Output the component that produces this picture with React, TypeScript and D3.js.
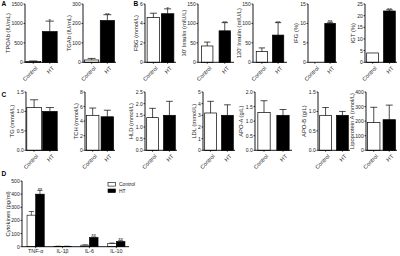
import React from 'react';
import * as d3 from 'd3';

const groups = ['Control', 'HT'];

// Panel A/B (row 1)
const row1Titles = ["TPOAb (IU/mL)", "TGAb (IU/mL)", "FBG (mmol/L)", "30' Insulin (mIU/L)", "120' Insulin (mIU/L)", "IFG (%)", "IGT (%)"];
const row1Max = [1500, 300, 6, 150, 150, 15, 25];
const row1Step = [500, 100, 2, 50, 50, 5, 5];
const row1Dec = [0, 0, 0, 0, 0, 0, 0];
const row1Control = [20, 12, 4.6, 42, 28, 0, 4];
const row1ControlErr = [35, 20, 5.05, 52, 37, 0, 4];
const row1HT = [790, 215, 5.0, 81, 70, 10, 22];
const row1HTErr = [1060, 245, 5.5, 102, 102, 10.3, 22.5];
const row1Stars = ['*', '**', '*', '**', '**', '**', '**'];

// Panel C (row 2)
const row2Titles = ["TG (mmol/L)", "TCH (mmol/L)", "HLD (mmol/L)", "LDL (mmol/L)", "APO-A (g/L)", "APO-B (g/L)", "Lipoprotein A (nmol/L)"];
const row2Max = [1.5, 8, 2.5, 5, 2.0, 1.5, 400];
const row2Step = [0.5, 2, 0.5, 1, 0.5, 0.5, 100];
const row2Dec = [1, 0, 1, 0, 1, 1, 0];
const row2Control = [1.1, 4.8, 1.4, 3.2, 1.3, 0.9, 190];
const row2ControlErr = [1.3, 5.8, 1.8, 4.2, 1.7, 1.1, 295];
const row2HT = [1.0, 4.6, 1.5, 3.0, 1.2, 0.9, 210];
const row2HTErr = [1.1, 5.5, 2.1, 3.9, 1.4, 1.0, 310];
const row2Stars = ['', '', '', '', '', '', ''];

// Panel D
const cytokines = ['TNF-α', 'IL-1β', 'IL-6', 'IL-10'];
const cytControl = [240, 3, 12, 25];
const cytControlErr = [268, 4, 14, 28];
const cytHT = [400, 3, 70, 40];
const cytHTErr = [428, 4, 75, 46];
const cytStars = ['**', '', '**', '**'];
const cytTicks = [0, 100, 200, 300, 400, 500];

// layout
const row1X0 = [25, 83, 145, 198, 253, 308, 365];
const row1X1 = [58, 116, 176, 234, 287, 337, 397];
const row1PIn = [0.1, 0.1, 0.12, 0.35, 0.3, 0.3, 0.3];
const row1POut = [0.05, 0.1, 0.15, 0.2, 0.2, 0.1, 0.1];
const row2X0 = [26, 85, 145, 203, 255, 318, 366];
const row2X1 = [58, 115, 177, 235, 292, 350, 397];
const row2PIn = [0.08, 0.15, 0.3, 0.3, 0.35, 0.3, 0.2];
const row2POut = [0.05, 0.1, 0.1, 0.1, 0.15, 0.1, 0.1];

const FONT = '"Liberation Sans", Arial, sans-serif';
const INK = '#1a1a1a';
const TICK_FS = 5;

type PanelProps = {
  x0: number; x1: number; yTop: number; yBot: number; max: number; step: number; dec: number;
  vals: number[]; errs: number[]; star: string; title: string; pIn: number; pOut: number;
};

function BarPanel(p: PanelProps) {
  const y = d3.scaleLinear().domain([0, p.max]).range([p.yBot, p.yTop]);
  const xb = d3.scaleBand<string>().domain(groups).range([p.x0, p.x1]).paddingInner(p.pIn).paddingOuter(p.pOut);
  const ticks = d3.range(0, p.max + p.step / 2, p.step);
  const fmt = p.dec ? d3.format('.1f') : d3.format('d');
  const maxLen = d3.max(ticks, (t) => fmt(t).length) as number;
  const tickW = maxLen * 2.78;
  const titleX = p.x0 - 4 - tickW;
  const bw = xb.bandwidth();
  return (
    <g>
      {groups.map((g, i) => {
        const bx = xb(g) as number;
        const v = p.vals[i];
        const e = p.errs[i];
        const cx = bx + bw / 2;
        return (
          <g key={g}>
            {v > 0 && (
              <rect x={bx} y={y(v)} width={bw} height={p.yBot - y(v)}
                fill={i === 0 ? '#fff' : '#000'} stroke="#000" strokeWidth={0.7} />
            )}
            {e > v && (
              <g stroke="#000" strokeWidth={0.7}>
                <line x1={cx} x2={cx} y1={y(v)} y2={y(e)} />
                <line x1={cx - bw * 0.28} x2={cx + bw * 0.28} y1={y(e)} y2={y(e)} />
              </g>
            )}
            {i === 1 && p.star && (
              <text x={cx} y={y(e) + 2.2} fontSize={6} textAnchor="middle" fill={INK} fontFamily={FONT}>{p.star}</text>
            )}
            <line x1={cx} x2={cx} y1={p.yBot} y2={p.yBot + 1.5} stroke="#000" strokeWidth={0.7} />
            <text transform={`translate(${cx + 1.8},${p.yBot + 3.5}) rotate(-45)`} fontSize={5.6}
              textAnchor="end" dominantBaseline="hanging" fill={INK} fontFamily={FONT}>{g}</text>
          </g>
        );
      })}
      {ticks.map((t) => (
        <g key={t}>
          <line x1={p.x0 - 1.5} x2={p.x0} y1={y(t)} y2={y(t)} stroke="#000" strokeWidth={0.8} />
          <text x={p.x0 - 2.3} y={y(t)} fontSize={TICK_FS} textAnchor="end" dominantBaseline="central"
            fill={INK} fontFamily={FONT}>{fmt(t)}</text>
        </g>
      ))}
      <line x1={p.x0} x2={p.x0} y1={p.yTop} y2={p.yBot} stroke="#000" strokeWidth={0.9} />
      <line x1={p.x0} x2={p.x1} y1={p.yBot} y2={p.yBot} stroke="#000" strokeWidth={0.9} />
      <text transform={`translate(${titleX},${(p.yTop + p.yBot) / 2}) rotate(-90)`} fontSize={5.8}
        textAnchor="middle" fill={INK} fontFamily={FONT}>{p.title}</text>
    </g>
  );
}

function CytokinePanel() {
  const yTop = 181, yBot = 246.7, x0 = 22, x1 = 129;
  const y = d3.scaleLinear().domain([0, 500]).range([yBot, yTop]);
  const xg = d3.scaleBand<string>().domain(cytokines).range([x0 + 1, x1]).paddingInner(0.36).paddingOuter(0.15);
  const xi = d3.scaleBand<string>().domain(groups).range([0, xg.bandwidth()]);
  const bw = xi.bandwidth();
  const series = [
    { vals: cytControl, errs: cytControlErr },
    { vals: cytHT, errs: cytHTErr },
  ];
  return (
    <g>
      {cytokines.map((c, ci) => {
        const gx = xg(c) as number;
        return (
          <g key={c}>
            {groups.map((g, i) => {
              const bx = gx + (xi(g) as number);
              const v = series[i].vals[ci];
              const e = series[i].errs[ci];
              const cx = bx + bw / 2;
              return (
                <g key={g}>
                  <rect x={bx} y={y(v)} width={bw} height={yBot - y(v)}
                    fill={i === 0 ? '#fff' : '#000'} stroke="#000" strokeWidth={0.6} />
                  <g stroke="#000" strokeWidth={0.6}>
                    <line x1={cx} x2={cx} y1={y(v)} y2={y(e)} />
                    <line x1={cx - bw * 0.3} x2={cx + bw * 0.3} y1={y(e)} y2={y(e)} />
                  </g>
                  {i === 1 && cytStars[ci] && (
                    <text x={cx} y={y(e) + 1.6} fontSize={5.5} textAnchor="middle" fill={INK} fontFamily={FONT}>{cytStars[ci]}</text>
                  )}
                </g>
              );
            })}
            <line x1={gx + xg.bandwidth() / 2} x2={gx + xg.bandwidth() / 2} y1={yBot} y2={yBot + 1.5} stroke="#000" strokeWidth={0.7} />
            <text x={gx + xg.bandwidth() / 2} y={yBot + 6.3} fontSize={5.3} textAnchor="middle" fill={INK} fontFamily={FONT}>{c}</text>
          </g>
        );
      })}
      {cytTicks.map((t) => (
        <g key={t}>
          <line x1={x0 - 1.5} x2={x0} y1={y(t)} y2={y(t)} stroke="#000" strokeWidth={0.8} />
          <text x={x0 - 2.3} y={y(t)} fontSize={TICK_FS} textAnchor="end" dominantBaseline="central" fill={INK} fontFamily={FONT}>{t}</text>
        </g>
      ))}
      <line x1={x0} x2={x0} y1={yTop} y2={yBot} stroke="#000" strokeWidth={0.9} />
      <line x1={x0} x2={x1} y1={yBot} y2={yBot} stroke="#000" strokeWidth={0.9} />
      <text transform={`translate(${x0 - 4 - 3 * 2.78},${(yTop + yBot) / 2}) rotate(-90)`} fontSize={5.8}
        textAnchor="middle" fill={INK} fontFamily={FONT}>Cytokines (pg/ml)</text>
      {groups.map((g, i) => (
        <g key={g}>
          <rect x={108} y={182.5 + i * 6.5} width={7.5} height={3.6} fill={i === 0 ? '#fff' : '#000'} stroke="#000" strokeWidth={0.6} />
          <text x={119} y={184.3 + i * 6.5} fontSize={5} dominantBaseline="central" fill={INK} fontFamily={FONT}>{g}</text>
        </g>
      ))}
    </g>
  );
}

export default function App() {
  return (
    <div style={{ position: 'fixed', left: 0, top: 0 }}>
      <svg width={400} height={256} viewBox="0 0 400 256" style={{ display: 'block', background: '#fff' }}>
        <rect width={400} height={256} fill="#fff" />
        {row1Titles.map((t, i) => (
          <BarPanel key={t} x0={row1X0[i]} x1={row1X1[i]} yTop={4} yBot={62.3} max={row1Max[i]} step={row1Step[i]}
            dec={row1Dec[i]} vals={[row1Control[i], row1HT[i]]} errs={[row1ControlErr[i], row1HTErr[i]]}
            star={row1Stars[i]} title={t} pIn={row1PIn[i]} pOut={row1POut[i]} />
        ))}
        {row2Titles.map((t, i) => (
          <BarPanel key={t} x0={row2X0[i]} x1={row2X1[i]} yTop={92} yBot={150.3} max={row2Max[i]} step={row2Step[i]}
            dec={row2Dec[i]} vals={[row2Control[i], row2HT[i]]} errs={[row2ControlErr[i], row2HTErr[i]]}
            star={row2Stars[i]} title={t} pIn={row2PIn[i]} pOut={row2POut[i]} />
        ))}
        <CytokinePanel />
        <g fontFamily={FONT} fontWeight="bold" fontSize={6.5} fill="#000">
          <text x={1.5} y={6}>A</text>
          <text x={133.5} y={6}>B</text>
          <text x={1.5} y={97}>C</text>
          <text x={1.5} y={176}>D</text>
        </g>
      </svg>
    </div>
  );
}
